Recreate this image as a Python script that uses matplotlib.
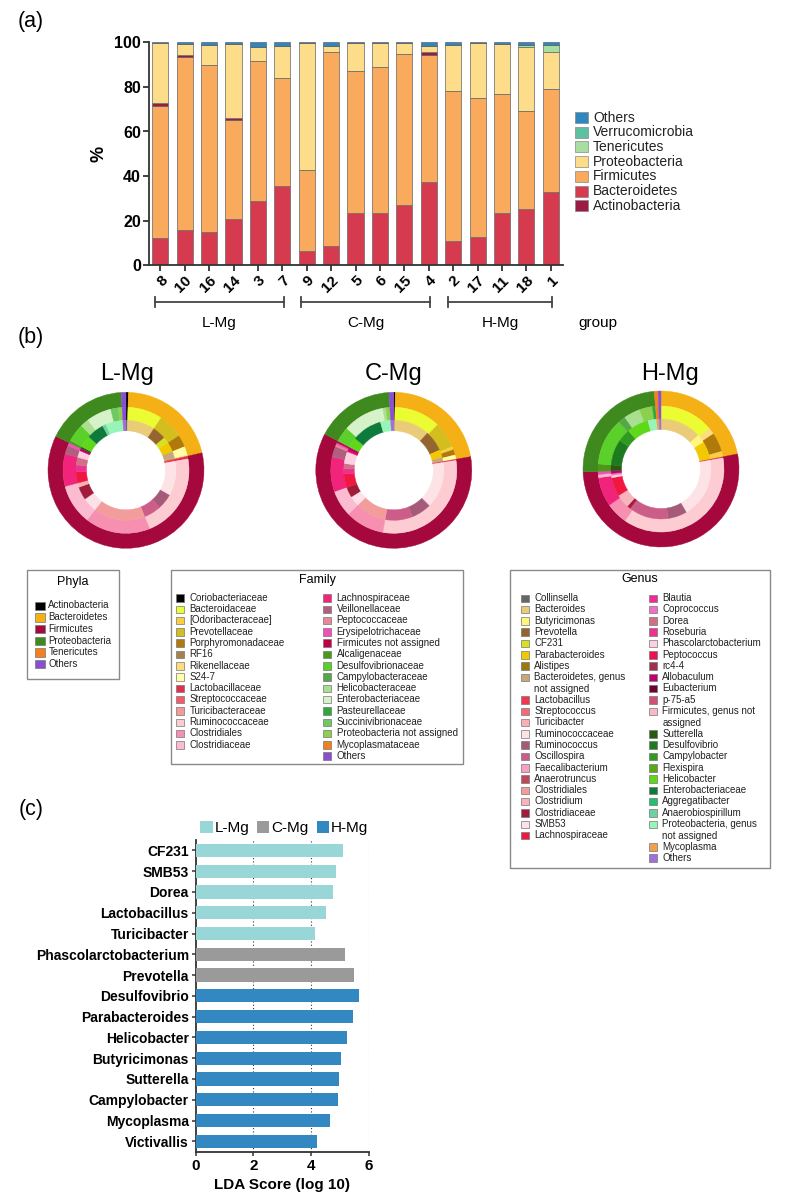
import matplotlib
matplotlib.use('Agg')
import matplotlib.pyplot as plt
from matplotlib.patches import Rectangle, Patch
from matplotlib.transforms import blended_transform_factory

plt.rcParams['font.family'] = ['Liberation Sans', 'DejaVu Sans']

# ---------------- Panel (a) data ----------------
samples = ['8', '10', '16', '14', '3', '7', '9', '12', '5', '6', '15', '4', '2', '17', '11', '18', '1']
bacteroidetes = [12.4, 15.7, 14.9, 20.8, 29.0, 35.7, 6.3, 8.7, 23.3, 23.5, 27.0, 37.3, 11.1, 12.7, 23.5, 25.3, 32.7]
firmicutes = [59.1, 77.6, 74.8, 44.4, 62.5, 48.2, 36.4, 86.8, 63.7, 65.4, 67.6, 57.2, 67.1, 62.5, 53.3, 43.8, 46.2]
actinobacteria = [1.3, 1.0, 0.0, 1.0, 0.0, 0.0, 0.0, 0.0, 0.0, 0.0, 0.0, 1.1, 0.0, 0.0, 0.0, 0.0, 0.0]
proteobacteria = [26.7, 5.0, 9.1, 33.1, 6.3, 14.4, 57.0, 2.7, 12.5, 10.6, 4.9, 2.9, 20.8, 24.3, 22.5, 29.0, 16.8]
tenericutes = [0, 0, 0, 0, 0, 0, 0, 0, 0, 0, 0, 0, 0, 0, 0, 0.7, 3.3]
verrucomicrobia = [0, 0, 0, 0, 0, 0, 0, 0, 0, 0, 0, 0, 0, 0, 0, 0, 0]
others_a = [0.5, 0.7, 1.2, 0.7, 2.2, 1.7, 0.3, 1.8, 0.5, 0.5, 0.5, 1.5, 1.0, 0.5, 0.7, 1.2, 1.0]
groups_a = [('L-Mg', 0, 5), ('C-Mg', 6, 11), ('H-Mg', 12, 16)]

# ---------------- Panel (b) data (percent of circle, clockwise from top) ----------------
lmg_phyla = ['Actinobacteria', 'Bacteroidetes', 'Firmicutes', 'Proteobacteria', 'Others']
lmg_phyla_v = [0.5, 20.9, 60.8, 16.8, 1.0]
lmg_family = ['Coriobacteriaceae', 'Bacteroidaceae', 'Prevotellaceae', 'Porphyromonadaceae', 'S24-7', 'Rikenellaceae',
              'Lactobacillaceae', 'Ruminococcaceae', 'Clostridiales', 'Clostridiaceae', 'Lachnospiraceae', 'Veillonellaceae',
              'Erysipelotrichaceae', 'Alcaligenaceae', 'Desulfovibrionaceae', 'Helicobacteraceae', 'Enterobacteriaceae',
              'Succinivibrionaceae', 'Proteobacteria not assigned', 'Others']
lmg_family_v = [0.5, 8.9, 6.4, 3.1, 2.2, 0.3, 0.7, 21.8, 16.7, 10.3, 8.3, 2.2, 0.8, 0.6, 4.7, 2.2, 6.4, 1.9, 1.0, 1.0]
lmg_genus = ['Collinsella', 'Bacteroides', 'Prevotella', 'CF231', 'Parabacteroides', 'Bacteroidetes, genus not assigned',
             'Lactobacillus', 'Ruminococcaceae', 'Ruminococcus', 'Oscillospira', 'Clostridiales', 'SMB53', 'Clostridiaceae',
             'Turicibacter', 'Lachnospiraceae', 'Roseburia', 'Dorea', 'Phascolarctobacterium', 'Allobaculum',
             'Sutterella', 'Helicobacter', 'Enterobacteriaceae', 'Anaerobiospirillum', 'Proteobacteria, genus not assigned', 'Others']
lmg_genus_v = [0.5, 8.9, 4.4, 2.0, 3.1, 2.5, 0.7, 11.2, 5.0, 5.6, 16.7, 4.7, 4.2, 1.4, 3.6, 2.2, 2.5, 2.2, 0.8,
               0.6, 3.9, 5.6, 1.1, 5.6, 1.0]

cmg_phyla = ['Actinobacteria', 'Bacteroidetes', 'Firmicutes', 'Proteobacteria', 'Others']
cmg_phyla_v = [0.3, 21.9, 60.5, 16.3, 1.0]
cmg_family = ['Coriobacteriaceae', 'Bacteroidaceae', 'Prevotellaceae', '[Odoribacteraceae]', 'Porphyromonadaceae', 'S24-7',
              'Lactobacillaceae', 'Ruminococcaceae', 'Clostridiales', 'Clostridiaceae', 'Lachnospiraceae', 'Veillonellaceae',
              'Peptococcaceae', 'Erysipelotrichaceae', 'Firmicutes not assigned', 'Desulfovibrionaceae', 'Enterobacteriaceae',
              'Helicobacteraceae', 'Proteobacteria not assigned', 'Others']
cmg_family_v = [0.3, 11.9, 6.7, 0.8, 1.4, 1.1, 0.3, 30.3, 10.0, 6.7, 8.9, 2.8, 0.5, 0.5, 0.5, 3.9, 10.6, 0.8, 1.0, 1.0]
cmg_genus = ['Collinsella', 'Bacteroides', 'Prevotella', 'Parabacteroides', 'Bacteroidetes, genus not assigned',
             'Lactobacillus', 'Ruminococcaceae', 'Ruminococcus', 'Oscillospira', 'Clostridiales', 'SMB53', 'Clostridiaceae',
             'Lachnospiraceae', 'Roseburia', 'Dorea', 'Phascolarctobacterium', 'Peptococcus', 'Allobaculum',
             'Helicobacter', 'Enterobacteriaceae', 'Proteobacteria, genus not assigned', 'Others']
cmg_genus_v = [0.3, 11.4, 6.7, 2.5, 1.3, 0.3, 15.0, 6.4, 8.9, 10.0, 3.3, 3.3, 4.4, 1.7, 1.7, 3.9, 0.5, 1.1,
               3.3, 9.7, 3.3, 1.0]

hmg_phyla = ['Bacteroidetes', 'Firmicutes', 'Proteobacteria', 'Tenericutes', 'Others']
hmg_phyla_v = [21.9, 52.5, 24.2, 0.8, 0.6]
hmg_family = ['Bacteroidaceae', 'Rikenellaceae', 'Porphyromonadaceae', '[Odoribacteraceae]',
              'Lactobacillaceae', 'Ruminococcaceae', 'Clostridiales', 'Lachnospiraceae', 'Clostridiaceae', 'Erysipelotrichaceae',
              'Alcaligenaceae', 'Desulfovibrionaceae', 'Campylobacteraceae', 'Helicobacteraceae', 'Proteobacteria not assigned',
              'Pasteurellaceae', 'Mycoplasmataceae', 'Others']
hmg_family_v = [13.9, 1.7, 4.9, 1.4, 0.3, 37.5, 5.6, 7.5, 0.8, 0.8, 1.9, 12.1, 1.9, 4.2, 3.3, 0.8, 0.8, 0.6]
hmg_genus = ['Bacteroides', 'Butyricimonas', 'Parabacteroides',
             'Lactobacillus', 'Ruminococcaceae', 'Ruminococcus', 'Oscillospira', 'Clostridiaceae', 'Clostridium',
             'Lachnospiraceae', 'Phascolarctobacterium', 'Coprococcus', 'Allobaculum',
             'Sutterella', 'Desulfovibrio', 'Campylobacter', 'Helicobacter', 'Proteobacteria, genus not assigned',
             'Mycoplasma', 'Others']
hmg_genus_v = [13.3, 2.8, 5.8, 0.3, 19.4, 6.1, 12.9, 1.1, 4.4, 6.1, 0.8, 0.6, 0.8, 1.9, 8.3, 4.2, 7.0, 2.8, 0.8, 0.6]

# ---------------- Panel (c) data ----------------
lda_names = ['CF231', 'SMB53', 'Dorea', 'Lactobacillus', 'Turicibacter', 'Phascolarctobacterium', 'Prevotella',
             'Desulfovibrio', 'Parabacteroides', 'Helicobacter', 'Butyricimonas', 'Sutterella', 'Campylobacter',
             'Mycoplasma', 'Victivallis']
lda_scores = [5.10, 4.88, 4.75, 4.53, 4.12, 5.18, 5.48, 5.68, 5.47, 5.24, 5.03, 4.96, 4.94, 4.65, 4.21]
lda_groups = ['L-Mg'] * 5 + ['C-Mg'] * 2 + ['H-Mg'] * 8

# ---------------- colours ----------------
bar_colors = {'Actinobacteria': '#9B1B45', 'Bacteroidetes': '#D63A4F', 'Firmicutes': '#F9AA5D',
              'Proteobacteria': '#FDDD8A', 'Tenericutes': '#A9DEA1', 'Verrucomicrobia': '#5CC1A0', 'Others': '#2F87C0'}
phyla_colors = {'Actinobacteria': '#000000', 'Bacteroidetes': '#F4B014', 'Firmicutes': '#A5083C',
                'Proteobacteria': '#3F8A1E', 'Tenericutes': '#F28020', 'Others': '#8A4FD0'}
family_colors = {
    'Coriobacteriaceae': '#000000', 'Bacteroidaceae': '#ECFC32', '[Odoribacteraceae]': '#F8D040',
    'Prevotellaceae': '#D4BE1E', 'Porphyromonadaceae': '#B07A0A', 'RF16': '#A88050', 'Rikenellaceae': '#FDDD80',
    'S24-7': '#FFFFA8', 'Lactobacillaceae': '#E0304C', 'Streptococcaceae': '#F55A6A', 'Turicibacteraceae': '#F59A9A',
    'Ruminococcaceae': '#FDCCD2', 'Clostridiales': '#F78FB0', 'Clostridiaceae': '#FBBBD0',
    'Lachnospiraceae': '#F2237A', 'Veillonellaceae': '#B0607E', 'Peptococcaceae': '#E8899A',
    'Erysipelotrichaceae': '#F050B8', 'Firmicutes not assigned': '#C00040', 'Alcaligenaceae': '#4A9A18',
    'Desulfovibrionaceae': '#5CD02A', 'Campylobacteraceae': '#55A845', 'Helicobacteraceae': '#A8E090',
    'Enterobacteriaceae': '#D5F2C8', 'Pasteurellaceae': '#2EA83C', 'Succinivibrionaceae': '#70C860',
    'Proteobacteria not assigned': '#8CD050', 'Mycoplasmataceae': '#F08020', 'Others': '#8A4FD0'}
genus_colors = {
    'Collinsella': '#666666', 'Bacteroides': '#E9CB78', 'Butyricimonas': '#FFF580', 'Prevotella': '#956530',
    'CF231': '#D8E020', 'Parabacteroides': '#F2C800', 'Alistipes': '#9A7A10',
    'Bacteroidetes, genus not assigned': '#C8A878', 'Lactobacillus': '#F03850', 'Streptococcus': '#F56A78',
    'Turicibacter': '#F8B0B4', 'Ruminococcaceae': '#FDE2E6', 'Ruminococcus': '#A45A78', 'Oscillospira': '#CC5C88',
    'Faecalibacterium': '#F8A0C0', 'Anaerotruncus': '#C04858', 'Clostridiales': '#F29C9C', 'Clostridium': '#F8B4BC',
    'Clostridiaceae': '#A01C3A', 'SMB53': '#FDE0E8', 'Lachnospiraceae': '#F01840', 'Blautia': '#F02898',
    'Coprococcus': '#F070C8', 'Dorea': '#D07088', 'Roseburia': '#F03090', 'Phascolarctobacterium': '#FBD0E0',
    'Peptococcus': '#F01050', 'rc4-4': '#A03050', 'Allobaculum': '#C00070', 'Eubacterium': '#700030',
    'p-75-a5': '#D05078', 'Firmicutes, genus not assigned': '#F8B8C8', 'Sutterella': '#2A5A10',
    'Desulfovibrio': '#1E7A1E', 'Campylobacter': '#2E9A20', 'Flexispira': '#5AA818', 'Helicobacter': '#60D81A',
    'Enterobacteriaceae': '#0E7A3C', 'Aggregatibacter': '#20C070', 'Anaerobiospirillum': '#70D0A0',
    'Proteobacteria, genus not assigned': '#98F5B8', 'Mycoplasma': '#F0A050', 'Others': '#A070D8'}
lda_colors = {'L-Mg': '#98D6D7', 'C-Mg': '#9A9A9A', 'H-Mg': '#3388C2'}

W, H = 792, 1204
fig = plt.figure(figsize=(W / 100, H / 100), dpi=100)


def px_axes(x0, y0, x1, y1, **kw):
    return fig.add_axes([x0 / W, 1 - y1 / H, (x1 - x0) / W, (y1 - y0) / H], **kw)


ov = fig.add_axes([0, 0, 1, 1])
ov.set_xlim(0, W)
ov.set_ylim(H, 0)
ov.axis('off')

AX_COL = '#333333'

# ================= Panel (a) =================
axa = px_axes(149.3, 42.3, 563, 265.3)
x = list(range(len(samples)))
stack = [('Bacteroidetes', bacteroidetes), ('Firmicutes', firmicutes), ('Actinobacteria', actinobacteria),
         ('Proteobacteria', proteobacteria), ('Tenericutes', tenericutes), ('Verrucomicrobia', verrucomicrobia),
         ('Others', others_a)]
bottom = [0.0] * len(samples)
for name, vals in stack:
    axa.bar(x, vals, bottom=bottom, width=0.66, color=bar_colors[name], edgecolor='#666666', linewidth=0.5)
    bottom = [b + v for b, v in zip(bottom, vals)]
axa.set_xlim(-0.45, 16.5)
axa.set_ylim(0, 100)
axa.set_yticks([0, 20, 40, 60, 80, 100])
axa.set_xticks(x)
axa.set_xticklabels(samples, rotation=45, ha='right', rotation_mode='anchor', fontsize=11, fontweight='bold')
for lab in axa.get_yticklabels():
    lab.set_fontweight('bold')
    lab.set_fontsize(11.5)
axa.set_ylabel('%', fontsize=13, fontweight='bold', labelpad=5)
for s in ['top', 'right']:
    axa.spines[s].set_visible(False)
for s in ['left', 'bottom']:
    axa.spines[s].set_linewidth(1.3)
    axa.spines[s].set_color(AX_COL)
axa.tick_params(width=1.3, length=4, color=AX_COL, pad=2)

# legend of (a), drawn as patches + text next to the axes
legend_order = ['Others', 'Verrucomicrobia', 'Tenericutes', 'Proteobacteria', 'Firmicutes', 'Bacteroidetes', 'Actinobacteria']
for i, n in enumerate(legend_order):
    yc = 117.5 + i * 14.7
    ov.add_patch(Rectangle((575, yc - 5.5), 12.5, 11, facecolor=bar_colors[n], edgecolor='#888888', lw=0.5))
    ov.text(593, yc, n, ha='left', va='center', fontsize=10, color='#222222')

# group brackets
tr = blended_transform_factory(axa.transData, ov.transData)
ybr = 302
for g, i0, i1 in groups_a:
    xa, xb = i0 - 0.22, i1 + 0.05
    ov.plot([xa, xb], [ybr, ybr], color='#444444', lw=1.3, transform=tr, clip_on=False)
    for xe in (xa, xb):
        ov.plot([xe, xe], [ybr - 5, ybr + 5], color='#444444', lw=1.3, transform=tr, clip_on=False)
    ov.text((xa + xb) / 2, 323, g, transform=tr, ha='center', va='center', fontsize=11)
ov.text(578, 323, 'group', ha='left', va='center', fontsize=11)

ov.text(18, 22, '(a)', fontsize=15.5, ha='left', va='center')
ov.text(18, 338, '(b)', fontsize=15.5, ha='left', va='center')
ov.text(19, 809, '(c)', fontsize=15.5, ha='left', va='center')

# ================= Panel (b) =================
RINGS = [(78, 63), (63, 50), (50, 39.5)]


def donut(cx, cy, title, tx, rings):
    ax = px_axes(cx - 86, cy - 86, cx + 86, cy + 86)
    for (names, vals, cmap), (ro, ri) in zip(rings, RINGS):
        wedges, _ = ax.pie(vals, radius=ro, colors=[cmap[n] for n in names], startangle=90, counterclock=False,
                           wedgeprops=dict(width=ro - ri, linewidth=0.3))
        for w in wedges:
            w.set_edgecolor(w.get_facecolor())
    ax.set_xlim(-86, 86)
    ax.set_ylim(-86, 86)
    ax.set_aspect('equal')
    ax.axis('off')
    ov.text(tx, 374, title, ha='center', va='center', fontsize=17)


donut(126, 470.3, 'L-Mg', 127, [(lmg_phyla, lmg_phyla_v, phyla_colors), (lmg_family, lmg_family_v, family_colors),
                                  (lmg_genus, lmg_genus_v, genus_colors)])
donut(393.8, 470.3, 'C-Mg', 393.7, [(cmg_phyla, cmg_phyla_v, phyla_colors), (cmg_family, cmg_family_v, family_colors),
                                      (cmg_genus, cmg_genus_v, genus_colors)])
donut(661, 469, 'H-Mg', 670, [(hmg_phyla, hmg_phyla_v, phyla_colors), (hmg_family, hmg_family_v, family_colors),
                                (hmg_genus, hmg_genus_v, genus_colors)])

# legend boxes
LEG_FS = 7
STEP = 11.3


def box(x0, y0, x1, y1, title, ty):
    ov.add_patch(Rectangle((x0, y0), x1 - x0, y1 - y0, facecolor='white', edgecolor='#8a8a8a', lw=1.0))
    ov.text((x0 + x1) / 2, ty, title, ha='center', va='center', fontsize=9)


def column(entries, cmap, sq_x, txt_x, y0, labels=None, step=STEP, sqw=7.5, sqh=7.5):
    line = 0
    for n in entries:
        y = y0 + line * step
        ov.add_patch(Rectangle((sq_x, y - sqh / 2), sqw, sqh, facecolor=cmap[n], edgecolor='#777777', lw=0.5))
        lab = labels.get(n, n) if labels else n
        nl = lab.count('\n') + 1
        ov.text(txt_x, y - 5.2, lab, ha='left', va='top', fontsize=LEG_FS, color='#222222', linespacing=1.18)
        line += nl


phyla_legend = ['Actinobacteria', 'Bacteroidetes', 'Firmicutes', 'Proteobacteria', 'Tenericutes', 'Others']
family_left = ['Coriobacteriaceae', 'Bacteroidaceae', '[Odoribacteraceae]', 'Prevotellaceae', 'Porphyromonadaceae',
               'RF16', 'Rikenellaceae', 'S24-7', 'Lactobacillaceae', 'Streptococcaceae', 'Turicibacteraceae',
               'Ruminococcaceae', 'Clostridiales', 'Clostridiaceae']
family_right = ['Lachnospiraceae', 'Veillonellaceae', 'Peptococcaceae', 'Erysipelotrichaceae', 'Firmicutes not assigned',
                'Alcaligenaceae', 'Desulfovibrionaceae', 'Campylobacteraceae', 'Helicobacteraceae', 'Enterobacteriaceae',
                'Pasteurellaceae', 'Succinivibrionaceae', 'Proteobacteria not assigned', 'Mycoplasmataceae', 'Others']
genus_left = ['Collinsella', 'Bacteroides', 'Butyricimonas', 'Prevotella', 'CF231', 'Parabacteroides', 'Alistipes',
              'Bacteroidetes, genus not assigned', 'Lactobacillus', 'Streptococcus', 'Turicibacter', 'Ruminococcaceae',
              'Ruminococcus', 'Oscillospira', 'Faecalibacterium', 'Anaerotruncus', 'Clostridiales', 'Clostridium',
              'Clostridiaceae', 'SMB53', 'Lachnospiraceae']
genus_right = ['Blautia', 'Coprococcus', 'Dorea', 'Roseburia', 'Phascolarctobacterium', 'Peptococcus', 'rc4-4',
               'Allobaculum', 'Eubacterium', 'p-75-a5', 'Firmicutes, genus not assigned', 'Sutterella', 'Desulfovibrio',
               'Campylobacter', 'Flexispira', 'Helicobacter', 'Enterobacteriaceae', 'Aggregatibacter',
               'Anaerobiospirillum', 'Proteobacteria, genus not assigned', 'Mycoplasma', 'Others']
wrap = {'Bacteroidetes, genus not assigned': 'Bacteroidetes, genus\nnot assigned',
        'Firmicutes, genus not assigned': 'Firmicutes, genus not\nassigned',
        'Proteobacteria, genus not assigned': 'Proteobacteria, genus\nnot assigned'}

box(27, 570, 119.3, 679.3, 'Phyla', 581.7)
column(phyla_legend, phyla_colors, 35, 48.3, 605.7, step=11.7, sqw=10, sqh=8.3)
box(170.7, 569.7, 463.3, 764, 'Family', 580)
column(family_left, family_colors, 176, 189.3, 598)
column(family_right, family_colors, 323.3, 336.7, 598)
box(510, 569.7, 770, 868.3, 'Genus', 579)
column(genus_left, genus_colors, 521, 534.3, 598.3, wrap)
column(genus_right, genus_colors, 649, 662.3, 598.3, wrap)

# ================= Panel (c) =================
axc = px_axes(195.7, 840, 369.3, 1151.7)
yy = list(range(len(lda_names)))
axc.barh(yy, lda_scores, height=0.64, color=[lda_colors[g] for g in lda_groups], zorder=3)
axc.set_ylim(len(lda_names) - 0.5, -0.5)
axc.set_xlim(0, 6.02)
axc.set_xticks([0, 2, 4, 6])
axc.set_yticks(yy)
axc.set_yticklabels(lda_names, fontsize=10, fontweight='bold')
for lab in axc.get_xticklabels():
    lab.set_fontweight('bold')
    lab.set_fontsize(11)
axc.set_xlabel('LDA Score (log 10)', fontsize=11, fontweight='bold', labelpad=4)
for xv in (2, 4):
    axc.axvline(xv, color='#333333', lw=0.8, ls=(0, (1, 2)), zorder=1)
axc.axvline(6, color='#888888', lw=0.8, ls=(0, (1, 2)), zorder=1)
for s in ['top', 'right']:
    axc.spines[s].set_visible(False)
for s in ['left', 'bottom']:
    axc.spines[s].set_linewidth(1.3)
    axc.spines[s].set_color(AX_COL)
axc.tick_params(width=1.1, length=3, color=AX_COL, pad=2)
lh = [Patch(facecolor=lda_colors[g], label=g) for g in ['L-Mg', 'C-Mg', 'H-Mg']]
axc.legend(handles=lh, loc='lower left', bbox_to_anchor=(0.0, 1.0), ncol=3, frameon=False, fontsize=11,
           handlelength=0.8, handleheight=0.9, handletextpad=0.15, columnspacing=0.5, borderaxespad=0.1,
           borderpad=0.2)

fig.savefig('out.png', dpi=100)
